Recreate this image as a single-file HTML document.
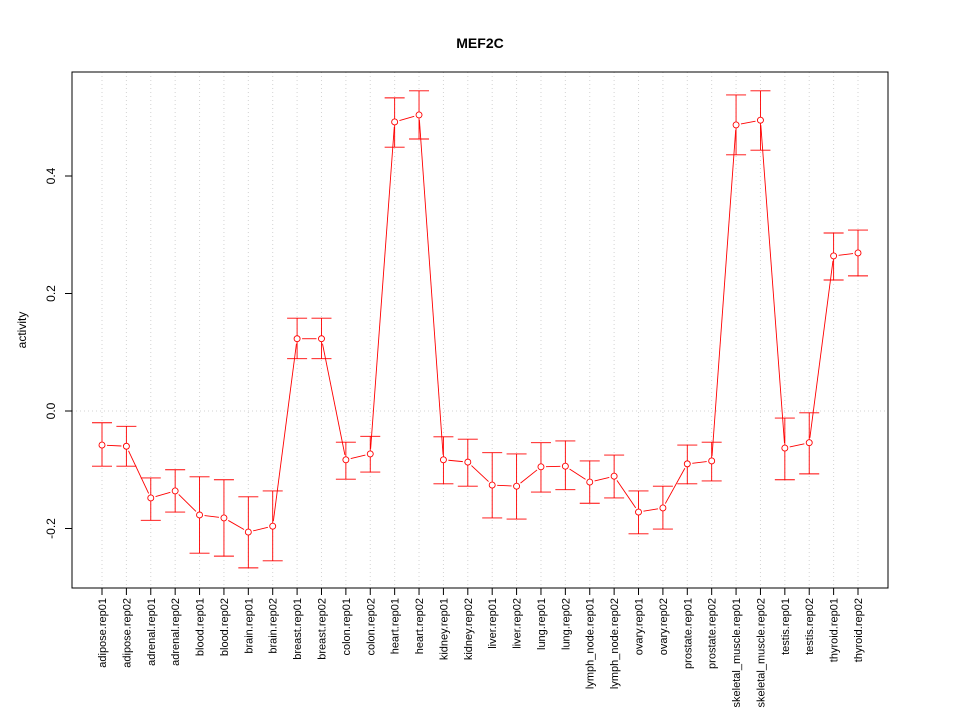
<!DOCTYPE html>
<html><head><meta charset="utf-8"><style>
body{margin:0;background:#fff;font-family:"Liberation Sans",sans-serif}
svg{display:block}
</style></head><body>
<svg id="chart" width="960" height="720" xmlns="http://www.w3.org/2000/svg" font-family="Liberation Sans, sans-serif">
<rect width="960" height="720" fill="#fff"/>
<text x="480" y="48" text-anchor="middle" font-size="14" font-weight="bold">MEF2C</text>
<text transform="translate(26,330) rotate(-90)" text-anchor="middle" font-size="12">activity</text>
<g id="grid"></g><g id="axes"></g><g id="marks"></g>
<rect x="72" y="72" width="816" height="516" fill="none" stroke="#000"/>
</svg>
<script>
const categories=["adipose.rep01","adipose.rep02","adrenal.rep01","adrenal.rep02","blood.rep01","blood.rep02","brain.rep01","brain.rep02","breast.rep01","breast.rep02","colon.rep01","colon.rep02","heart.rep01","heart.rep02","kidney.rep01","kidney.rep02","liver.rep01","liver.rep02","lung.rep01","lung.rep02","lymph_node.rep01","lymph_node.rep02","ovary.rep01","ovary.rep02","prostate.rep01","prostate.rep02","skeletal_muscle.rep01","skeletal_muscle.rep02","testis.rep01","testis.rep02","thyroid.rep01","thyroid.rep02"];
const values=[-0.058,-0.060,-0.148,-0.136,-0.177,-0.182,-0.206,-0.196,0.123,0.123,-0.083,-0.073,0.492,0.504,-0.083,-0.087,-0.126,-0.128,-0.095,-0.094,-0.121,-0.111,-0.172,-0.165,-0.090,-0.085,0.487,0.495,-0.063,-0.054,0.264,0.269];
const upper=[-0.020,-0.026,-0.114,-0.100,-0.112,-0.117,-0.146,-0.136,0.158,0.158,-0.053,-0.043,0.533,0.545,-0.044,-0.048,-0.071,-0.073,-0.054,-0.051,-0.085,-0.075,-0.136,-0.128,-0.058,-0.053,0.538,0.545,-0.012,-0.003,0.303,0.308];
const lower=[-0.094,-0.094,-0.186,-0.172,-0.242,-0.247,-0.267,-0.255,0.089,0.089,-0.116,-0.104,0.449,0.463,-0.124,-0.128,-0.182,-0.184,-0.138,-0.134,-0.157,-0.148,-0.209,-0.201,-0.124,-0.119,0.436,0.444,-0.117,-0.107,0.223,0.230];
const yTicks=[-0.2,0.0,0.2,0.4];
const yTickLabels=["-0.2","0.0","0.2","0.4"];
const NS="http://www.w3.org/2000/svg";
const x0=102,x1=858;
function xs(i){return x0+(x1-x0)*i/(categories.length-1);}
function ys(v){return 411-v*587.5;}
function mk(t,a,p){const e=document.createElementNS(NS,t);for(const k in a)e.setAttribute(k,a[k]);p.appendChild(e);return e;}
const grid=document.getElementById('grid'),axes=document.getElementById('axes'),marks=document.getElementById('marks');
categories.forEach((c,i)=>{
 const g=mk('line',{x1:xs(i),x2:xs(i),y1:72,y2:588,stroke:'#d3d3d3','stroke-dasharray':'1,3'},grid);
 
 
 const t=mk('line',{x1:xs(i),x2:xs(i),y1:588,y2:595,stroke:'#000'},axes);
 
 
 const l=mk('text',{transform:`translate(${xs(i)+4},598) rotate(-90)`,'text-anchor':'end','font-size':'11'},axes);
 l.textContent=c;
 
 
});
const zl=mk('line',{x1:72,x2:888,y1:ys(0),y2:ys(0),stroke:'#d3d3d3','stroke-dasharray':'1,3'},grid);


const ya=mk('line',{x1:72,x2:72,y1:ys(yTicks[0]),y2:ys(yTicks[yTicks.length-1]),stroke:'#000'},axes);


const xa=mk('line',{x1:xs(0),x2:xs(categories.length-1),y1:588,y2:588,stroke:'#000'},axes);


yTicks.forEach((v,i)=>{
 const t=mk('line',{x1:65,x2:72,y1:ys(v),y2:ys(v),stroke:'#000'},axes);
 
 
 const l=mk('text',{transform:`translate(55,${ys(v)}) rotate(-90)`,'text-anchor':'middle','font-size':'12'},axes);
 l.textContent=yTickLabels[i];
 
 
});
const R=3;
for(let i=0;i<values.length-1;i++){
 const ax=xs(i),ay=ys(values[i]),bx=xs(i+1),by=ys(values[i+1]);
 const dx=bx-ax,dy=by-ay,len=Math.hypot(dx,dy),g=R+2;
 if(len<=2*g)continue;
 const s=mk('line',{x1:ax+dx*g/len,y1:ay+dy*g/len,x2:bx-dx*g/len,y2:by-dy*g/len,stroke:'#f00','stroke-width':0.9},marks);
 
 
}
values.forEach((v,i)=>{
 const x=xs(i);
 const e=mk('line',{x1:x,x2:x,y1:ys(upper[i]),y2:ys(lower[i]),stroke:'#f00','stroke-width':0.9},marks);
 
 
 [upper[i],lower[i]].forEach(b=>{
  const c=mk('line',{x1:x-10,x2:x+10,y1:ys(b),y2:ys(b),stroke:'#f00','stroke-width':0.9},marks);
  
  
 });
 const p=mk('circle',{cx:x,cy:ys(v),r:R,fill:'#fff',stroke:'#f00','stroke-width':0.9},marks);
 
 
});
</script>
</body></html>
